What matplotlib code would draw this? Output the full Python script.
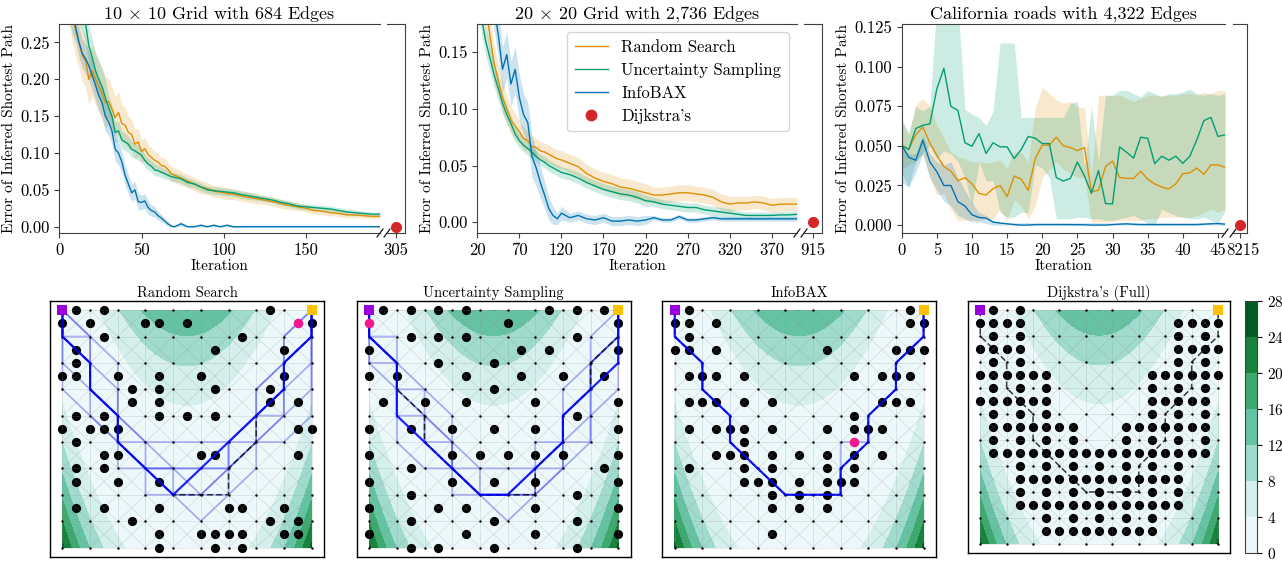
import numpy as np
import matplotlib
matplotlib.use('Agg')
import matplotlib.pyplot as plt
import matplotlib.transforms as mtransforms
from matplotlib.collections import LineCollection
from matplotlib.lines import Line2D
from matplotlib.ticker import FormatStrFormatter

plt.rcParams['font.family'] = 'serif'
plt.rcParams['font.serif'] = ['cmr10']
plt.rcParams['mathtext.fontset'] = 'cm'
plt.rcParams['axes.formatter.use_mathtext'] = True
plt.rcParams['axes.unicode_minus'] = False
plt.rcParams['axes.edgecolor'] = '0.25'

names = ['Random Search', 'Uncertainty Sampling', 'InfoBAX']
colors = ['#de8f05', '#029e73', '#0173b2']
red = '#d62728'

# ---------------- top row data ----------------
# 10 x 10 grid
p1_it = [1, 5, 8] + list(range(10, 71, 2)) + list(range(74, 111, 4)) + list(range(115, 196, 5))
p1_rand = [0.42, 0.33, 0.29,
           0.265, 0.25, 0.232, 0.225, 0.2, 0.212, 0.2, 0.19, 0.18, 0.168,
           0.17, 0.16, 0.148, 0.155, 0.14, 0.138, 0.128, 0.125, 0.112, 0.115,
           0.102, 0.106, 0.098, 0.094, 0.09, 0.088, 0.083, 0.082, 0.078, 0.072, 0.07,
           0.066, 0.062, 0.058, 0.054, 0.052, 0.048, 0.047, 0.045, 0.044, 0.042,
           0.04, 0.038, 0.036, 0.034, 0.031, 0.029, 0.027, 0.025, 0.022, 0.021, 0.019,
           0.018, 0.016, 0.016, 0.015, 0.014, 0.014]
p1_unc = [0.45, 0.38, 0.33,
          0.31, 0.30, 0.29, 0.275, 0.245, 0.23, 0.212, 0.2, 0.19, 0.175,
          0.162, 0.15, 0.128, 0.13, 0.118, 0.115, 0.112, 0.105, 0.103, 0.1,
          0.097, 0.09, 0.085, 0.082, 0.077, 0.076, 0.074, 0.072, 0.07, 0.068, 0.067,
          0.065, 0.06, 0.058, 0.054, 0.05, 0.049, 0.048, 0.047, 0.046, 0.044,
          0.042, 0.04, 0.038, 0.036, 0.033, 0.031, 0.028, 0.027, 0.026, 0.025, 0.024,
          0.022, 0.02, 0.019, 0.018, 0.017, 0.017]
p1_info = [0.40, 0.32, 0.29,
           0.27, 0.25, 0.235, 0.228, 0.218, 0.205, 0.192, 0.178, 0.168, 0.15,
           0.142, 0.13, 0.105, 0.1, 0.088, 0.07, 0.058, 0.046, 0.05, 0.034,
           0.033, 0.035, 0.026, 0.022, 0.02, 0.015, 0.012, 0.008, 0.004, 0.001, 0.0,
           0.004, 0.0, 0.0, 0.002, 0.0, 0.002, 0.0, 0.002, 0.0, 0.0] + [0.0] * 17
p1_rand_sd = [0.04] * 3 + [0.035] * 10 + \
    [0.03, 0.03, 0.028, 0.028, 0.025, 0.025, 0.022, 0.02, 0.02, 0.018] + \
    [0.016, 0.015, 0.014, 0.013, 0.012, 0.012, 0.011, 0.011, 0.01, 0.01, 0.01] + \
    [0.01, 0.009, 0.009, 0.009, 0.008, 0.008, 0.008, 0.008, 0.007, 0.007] + \
    [0.007, 0.007, 0.006, 0.006, 0.006, 0.006, 0.005, 0.005, 0.005, 0.005,
     0.004, 0.004, 0.004, 0.004, 0.003, 0.003, 0.003]
p1_unc_sd = [0.03] * 3 + [0.025] * 10 + \
    [0.015, 0.015, 0.014, 0.013, 0.012, 0.012, 0.011, 0.011, 0.01, 0.01] + \
    [0.009, 0.009, 0.008, 0.008, 0.008, 0.007, 0.007, 0.007, 0.006, 0.006, 0.006] + \
    [0.006, 0.006] + [0.005] * 8 + [0.005] + [0.004] * 13 + [0.003] * 3
p1_info_sd = [0.03] * 3 + [0.02] * 10 + \
    [0.018, 0.018, 0.016, 0.016, 0.015, 0.014, 0.013, 0.012, 0.012, 0.011] + \
    [0.01, 0.01, 0.009, 0.008, 0.007, 0.006, 0.005, 0.004, 0.003, 0.002, 0.001] + \
    [0.003, 0.001, 0.001, 0.002, 0.001, 0.002, 0.001, 0.002, 0.001, 0.0005] + [0.0003] * 17

# 20 x 20 grid
p2_it = list(range(20, 121, 5)) + list(range(130, 401, 10))
p2_rand = [0.26, 0.22, 0.19, 0.165, 0.14, 0.125, 0.11, 0.1, 0.09, 0.085, 0.08,
           0.074, 0.072, 0.067, 0.066, 0.063, 0.062, 0.06, 0.058, 0.056, 0.055,
           0.052, 0.049, 0.043, 0.039, 0.036, 0.034, 0.031, 0.03, 0.028, 0.026,
           0.024, 0.024, 0.025, 0.026, 0.026, 0.025, 0.024, 0.022, 0.018, 0.016,
           0.017, 0.017, 0.018, 0.017, 0.015, 0.016, 0.016, 0.016]
p2_unc = [0.22, 0.18, 0.16, 0.145, 0.13, 0.118, 0.105, 0.095, 0.087, 0.078, 0.072,
          0.068, 0.065, 0.062, 0.058, 0.055, 0.053, 0.05, 0.048, 0.046, 0.044,
          0.042, 0.039, 0.035, 0.032, 0.029, 0.027, 0.025, 0.024, 0.022, 0.019,
          0.018, 0.016, 0.015, 0.014, 0.013, 0.013, 0.011, 0.01, 0.009, 0.008,
          0.007, 0.006, 0.006, 0.006, 0.006, 0.0065, 0.0065, 0.007]
p2_info = [0.35, 0.30, 0.26, 0.22, 0.19, 0.165, 0.135, 0.148, 0.122, 0.135, 0.11,
           0.095, 0.088, 0.058, 0.048, 0.035, 0.024, 0.012, 0.006, 0.003, 0.008,
           0.004, 0.006, 0.003, 0.002, 0.004, 0.001, 0.001, 0.002, 0.001, 0.002,
           0.004, 0.002, 0.002, 0.005, 0.002, 0.002, 0.003, 0.004, 0.003, 0.003] + [0.003] * 8
p2_rand_sd = [0.02, 0.02, 0.02, 0.018, 0.016, 0.015, 0.014, 0.012, 0.012, 0.011, 0.01,
              0.01, 0.009, 0.009, 0.008, 0.008, 0.008, 0.008, 0.008, 0.008, 0.008] + \
    [0.008] * 10 + [0.007] * 10 + [0.006] * 8
p2_unc_sd = [0.015, 0.014, 0.013, 0.012, 0.011, 0.01, 0.009, 0.008, 0.007, 0.007, 0.006,
             0.006, 0.006, 0.005, 0.005, 0.005, 0.005, 0.005, 0.005, 0.005, 0.005] + \
    [0.005] * 10 + [0.004] * 10 + [0.003] * 8
p2_info_sd = [0.03, 0.03, 0.025, 0.025, 0.02, 0.02, 0.02, 0.02, 0.02, 0.02, 0.02,
              0.018, 0.018, 0.018, 0.016, 0.014, 0.012, 0.01, 0.008, 0.005, 0.006] + \
    [0.004] * 10 + [0.002] * 18

# California roads
p3_it = list(range(47))
p3_rand = [0.050, 0.048, 0.057, 0.062, 0.052, 0.044, 0.037, 0.034, 0.028, 0.030,
           0.026, 0.020, 0.019, 0.023, 0.025, 0.018, 0.031, 0.029, 0.022, 0.042,
           0.0505, 0.0505, 0.0555, 0.050, 0.049, 0.047, 0.049, 0.021, 0.022, 0.037,
           0.0405, 0.030, 0.0295, 0.0295, 0.034, 0.029, 0.026, 0.024, 0.0228, 0.026,
           0.0325, 0.033, 0.036, 0.032, 0.038, 0.038, 0.0365]
p3_unc = [0.0505, 0.0477, 0.061, 0.063, 0.0639, 0.086, 0.099, 0.075, 0.0724, 0.052,
          0.0498, 0.0578, 0.0452, 0.052, 0.0494, 0.0494, 0.042, 0.0477, 0.056, 0.0549,
          0.0515, 0.0515, 0.030, 0.0278, 0.0295, 0.0398, 0.031, 0.020, 0.0345, 0.0136,
          0.0134, 0.0494, 0.046, 0.0423, 0.0555, 0.0548, 0.0388, 0.0435, 0.041, 0.0435,
          0.039, 0.0435, 0.054, 0.066, 0.068, 0.056, 0.057]
p3_info = [0.0505, 0.0428, 0.041, 0.0536, 0.040, 0.0337, 0.025, 0.025, 0.0148, 0.012,
           0.0065, 0.0048, 0.0044, 0.0019, 0.0013, 0.0008, 0.0003, 0.0, 0.0, 0.0003,
           0.0003, 0.0003, 0.0003, 0.0003, 0.0003, 0.0002, 0.0002, 0.0, 0.0, 0.0,
           0.0003, 0.0006, 0.0008, 0.0005, 0.0003, 0.0003, 0.0003, 0.0003, 0.0003, 0.0003,
           0.0003, 0.0003, 0.0003, 0.0006, 0.0008, 0.001, 0.0006]
p3_rand_lo = [0.035, 0.038, 0.040, 0.045, 0.030, 0.019, 0.020, 0.010, 0.003, 0.003,
              0.003, 0.003, 0.004, 0.004, 0.010, 0.003, 0.016, 0.012, 0.004, 0.012,
              0.030, 0.035, 0.040, 0.035, 0.033, 0.030, 0.030, 0.002, 0.002, 0.002,
              0.002, 0.003, 0.003, 0.003, 0.003, 0.004, 0.004, 0.005, 0.005, 0.005,
              0.005, 0.005, 0.006, 0.008, 0.010, 0.008, 0.010]
p3_rand_hi = [0.065, 0.057, 0.076, 0.080, 0.075, 0.063, 0.055, 0.046, 0.043, 0.042,
              0.040, 0.040, 0.039, 0.040, 0.041, 0.036, 0.046, 0.046, 0.040, 0.074,
              0.087, 0.083, 0.079, 0.077, 0.078, 0.075, 0.074, 0.030, 0.082, 0.082,
              0.082, 0.082, 0.080, 0.078, 0.080, 0.082, 0.082, 0.082, 0.082, 0.082,
              0.083, 0.083, 0.082, 0.084, 0.083, 0.085, 0.085]
p3_unc_lo = [0.033, 0.024, 0.040, 0.046, 0.050, 0.042, 0.047, 0.045, 0.040, 0.030,
             0.012, 0.040, 0.028, 0.028, 0.008, 0.005, 0.005, 0.008, 0.008, 0.038,
             0.036, 0.030, 0.004, 0.004, 0.004, 0.005, 0.005, 0.004, 0.004, 0.003,
             0.003, 0.004, 0.005, 0.006, 0.004, 0.001, 0.000, 0.010, 0.008, 0.006,
             0.005, 0.004, 0.004, 0.005, 0.003, 0.001, 0.009]
p3_unc_hi = [0.067, 0.058, 0.075, 0.072, 0.075, 0.140, 0.140, 0.140, 0.140, 0.073,
             0.070, 0.068, 0.063, 0.072, 0.115, 0.115, 0.115, 0.068, 0.068, 0.068,
             0.068, 0.068, 0.068, 0.068, 0.077, 0.078, 0.036, 0.075, 0.040, 0.082,
             0.082, 0.085, 0.085, 0.083, 0.081, 0.085, 0.083, 0.081, 0.083, 0.083,
             0.084, 0.086, 0.083, 0.082, 0.083, 0.082, 0.083]
p3_info_lo = [0.027, 0.024, 0.033, 0.045, 0.030, 0.022, 0.015, 0.012, 0.006, 0.004,
              0.002, 0.002, 0.001] + [0.0] * 34
p3_info_hi = [0.050, 0.045, 0.045, 0.057, 0.045, 0.040, 0.038, 0.040, 0.030, 0.022,
              0.014, 0.008, 0.006, 0.003] + [0.0015] * 33

dijkstra_x = [305, 915, 8215]

# ---------------- bottom row data ----------------
# queried edges: for each of 19 half-grid rows (top to bottom), the half-grid columns
rs_query = [[1, 3, 15], [0, 2, 6, 7, 9, 18], [3, 13], [1, 11, 16], [1],
            [0, 1, 4, 7, 10, 16], [5, 7, 11, 15], [5, 7, 15, 17], [1, 3, 7, 9, 11],
            [0, 2, 3, 4, 17, 18], [1], [3, 4, 10, 11, 17], [1, 3], [1, 4, 7], [],
            [1, 3, 7, 12, 13, 16], [5, 15, 17], [7, 10, 11, 12, 13, 16, 17], [7, 11, 13]]
us_query = [[1, 3, 5, 7, 13, 15, 17], [10, 18], [3, 5, 7, 15], [0, 11, 13, 18], [5, 9],
            [0, 2, 7, 11, 14, 17], [9], [1, 4, 7, 12, 18], [15],
            [0, 3, 6, 9, 12, 18], [], [0, 6, 8, 10, 12, 14, 18], [3, 17],
            [0, 6, 9, 12, 18], [3, 15], [0, 5, 7, 12, 18], [3, 9, 15],
            [0, 7, 12, 18], [3, 5, 9, 15]]
ib_query = [[1, 17], [0, 1, 3, 17, 18], [1], [0, 1, 3, 11, 16, 17, 18], [],
            [1, 2, 3, 5, 13, 15, 16, 17], [], [1, 2, 3, 5, 7, 15, 16, 17], [13],
            [1, 3, 4, 5, 7, 11, 13, 14, 15], [5], [3, 4, 5, 7, 9, 11, 13, 15],
            [1, 5, 7, 11, 13], [5, 6, 7, 9, 11, 12, 13], [7, 9, 11], [7, 9, 11],
            [], [7], []]
dj_query = [[1, 3], [0, 1, 2, 3, 15, 16, 17, 18], [1, 3, 15, 17],
            [0, 1, 2, 3, 15, 16, 17, 18], [1, 3, 15, 17],
            list(range(0, 6)) + list(range(13, 19)), [1, 3, 5, 13, 15, 17],
            list(range(0, 6)) + list(range(13, 18)), [1, 3, 5, 13, 15, 17],
            list(range(1, 8)) + list(range(11, 18)), [1, 3, 5, 7, 11, 13, 15, 17],
            list(range(1, 18)), [3, 5, 7, 9, 11, 13, 15], list(range(3, 16)),
            [3, 5, 7, 9, 11, 13, 15], list(range(3, 16)), [5, 7, 9, 11, 13],
            list(range(5, 14)), []]
next_query = {'rs': (1, 17), 'us': (1, 0), 'ib': (10, 13)}

true_path = [(0, 9), (0, 8), (1, 7), (1, 6), (2, 5), (2, 4), (3, 3), (4, 2), (5, 2),
             (6, 2), (6, 3), (7, 4), (7, 5), (8, 6), (8, 7), (9, 8), (9, 9)]
rs_inferred = [(0, 9), (0, 8), (1, 7), (1, 6), (2, 5), (2, 4), (3, 3), (4, 2), (5, 3),
               (6, 4), (7, 5), (8, 6), (8, 7), (9, 8), (9, 9)]
rs_samples = [
    [(0, 9), (0, 8), (1, 7), (1, 6), (1, 5), (2, 4), (3, 3), (4, 2), (5, 2), (6, 2), (6, 3),
     (7, 4), (7, 5), (8, 6), (8, 7), (9, 8), (9, 9)],
    [(0, 9), (1, 8), (1, 7), (2, 6), (2, 5), (2, 4), (2, 3), (3, 3), (4, 3), (5, 3), (6, 3),
     (7, 4), (8, 5), (8, 6), (8, 7), (8, 8), (9, 9)],
    [(0, 9), (0, 8), (0, 7), (1, 6), (2, 5), (3, 4), (4, 3), (4, 2), (5, 2), (6, 3), (7, 4),
     (8, 4), (9, 5), (9, 6), (9, 7), (9, 8), (9, 9)],
    [(0, 9), (0, 8), (1, 8), (1, 7), (1, 6), (2, 5), (2, 4), (3, 4), (4, 4), (5, 4), (6, 4),
     (7, 4), (7, 5), (8, 5), (8, 6), (9, 7), (9, 8), (9, 9)],
    [(0, 9), (0, 8), (1, 7), (1, 6), (2, 5), (2, 4), (3, 3), (3, 2), (4, 2), (5, 1), (6, 2),
     (7, 3), (7, 4), (8, 5), (9, 6), (9, 7), (9, 8), (9, 9)],
    [(0, 9), (0, 8), (0, 7), (0, 6), (1, 5), (2, 4), (3, 3), (4, 3), (5, 2), (6, 3), (6, 4),
     (7, 5), (7, 6), (8, 7), (9, 8), (9, 9)],
    [(0, 9), (1, 8), (2, 7), (2, 6), (2, 5), (3, 4), (3, 3), (4, 3), (5, 3), (6, 3), (6, 4),
     (7, 5), (7, 6), (8, 7), (8, 8), (9, 9)],
]
us_inferred = [(0, 9), (0, 8), (1, 7), (1, 6), (1, 5), (2, 4), (3, 3), (4, 2), (5, 2),
               (6, 3), (7, 4), (7, 5), (8, 6), (9, 7), (9, 8), (9, 9)]
us_samples = [
    [(0, 9), (0, 8), (1, 7), (1, 6), (2, 5), (2, 4), (3, 3), (3, 2), (4, 2), (5, 2), (6, 2),
     (6, 3), (7, 4), (7, 5), (8, 6), (8, 7), (9, 8), (9, 9)],
    [(0, 9), (0, 8), (0, 7), (1, 6), (2, 6), (2, 5), (3, 4), (3, 3), (4, 2), (5, 1), (6, 2),
     (7, 3), (7, 4), (8, 5), (8, 6), (8, 7), (9, 8), (9, 9)],
    [(0, 9), (0, 8), (1, 8), (1, 7), (1, 6), (2, 5), (3, 4), (3, 3), (4, 3), (5, 3), (6, 3),
     (7, 3), (7, 4), (8, 4), (8, 5), (8, 6), (8, 7), (9, 8), (9, 9)],
    [(0, 9), (0, 8), (0, 7), (1, 7), (1, 6), (1, 5), (2, 5), (2, 4), (3, 4), (4, 3), (4, 2),
     (5, 2), (6, 2), (6, 3), (7, 4), (7, 5), (7, 6), (8, 7), (9, 8), (9, 9)],
    [(0, 9), (0, 8), (1, 7), (1, 6), (1, 5), (1, 4), (2, 3), (3, 3), (4, 2), (5, 2), (6, 3),
     (6, 4), (7, 4), (7, 5), (8, 6), (8, 7), (8, 8), (9, 9)],
    [(0, 9), (0, 8), (1, 7), (2, 6), (3, 5), (3, 4), (3, 3), (4, 2), (5, 2), (6, 2), (7, 3),
     (8, 4), (8, 5), (9, 6), (9, 7), (9, 8), (9, 9)],
]
ib_inferred = true_path
ib_samples = [
    [(0, 9), (0, 8), (1, 7), (1, 6), (2, 5), (2, 4), (3, 3), (4, 2), (5, 2), (6, 2), (6, 3),
     (6, 4), (7, 4), (7, 5), (8, 6), (8, 7), (9, 8), (9, 9)],
]

# ---------------- figure ----------------
fig = plt.figure(figsize=(12.82, 5.61), dpi=100)
W, H = 1282.0, 561.0


def px_rect(x0, y0, x1, y1):
    return [x0 / W, 1 - y1 / H, (x1 - x0) / W, (y1 - y0) / H]


def curve_panel(main_px, small_px, it, lines, los, his, xlim, xticks, ylim, yticks,
                yfmt, dx, title, shift=0):
    ax = fig.add_axes(px_rect(*main_px))
    axs = fig.add_axes(px_rect(*small_px))
    handles = []
    for name, col, y, lo, hi in zip(names, colors, lines, los, his):
        ax.fill_between(it, lo, hi, color=col, alpha=0.2, lw=0)
        h, = ax.plot(it, y, color=col, lw=1.0, label=name)
        handles.append(h)
    axs.plot([dx], [0], 'o', color=red, ms=7, clip_on=False, zorder=5)
    handles.append(Line2D([], [], marker='o', ls='none', color=red, ms=7.5))
    ax.set_xlim(*xlim)
    ax.set_ylim(*ylim)
    axs.set_xlim(dx - 5, dx + 5)
    axs.set_ylim(*ylim)
    ax.spines['right'].set_visible(False)
    axs.spines['left'].set_visible(False)
    axs.set_yticks([])
    axs.set_xticks([dx])
    axs.set_xticklabels([str(dx)])
    ax.set_xticks(xticks)
    ax.set_yticks(yticks)
    ax.yaxis.set_major_formatter(FormatStrFormatter(yfmt))
    ax.xaxis.set_major_formatter(FormatStrFormatter('%d'))
    for a in (ax, axs):
        a.tick_params(labelsize=12, length=3.5, width=0.8, color='0.25')
    if shift:
        off = mtransforms.ScaledTranslation(shift / 100.0, 0, fig.dpi_scale_trans)
        for lab in axs.get_xticklabels():
            lab.set_transform(lab.get_transform() + off)
    wm = main_px[2] - main_px[0]
    ws = small_px[2] - small_px[0]
    hh = main_px[3] - main_px[1]
    kw = dict(color='k', clip_on=False, lw=0.8)
    ax.plot([1 - 3 / wm, 1 + 3 / wm], [-4 / hh, 4 / hh], transform=ax.transAxes, **kw)
    axs.plot([-3 / ws, 3 / ws], [-4 / hh, 4 / hh], transform=axs.transAxes, **kw)
    ax.set_title(title, fontsize=13, pad=3)
    ax.set_xlabel('Iteration', fontsize=11, labelpad=1)
    ax.set_ylabel('Error of Inferred Shortest Path', fontsize=11, labelpad=3)
    return ax, handles


curve_panel((59.3, 24, 380, 233), (387, 24, 405, 233), p1_it,
            [p1_rand, p1_unc, p1_info],
            [np.array(p1_rand) - p1_rand_sd, np.array(p1_unc) - p1_unc_sd, np.array(p1_info) - p1_info_sd],
            [np.array(p1_rand) + p1_rand_sd, np.array(p1_unc) + p1_unc_sd, np.array(p1_info) + p1_info_sd],
            (0, 195), [0, 50, 100, 150], (-0.0085, 0.275), [0, 0.05, 0.1, 0.15, 0.2, 0.25],
            '%.2f', dijkstra_x[0], r'10 $\times$ 10 Grid with 684 Edges')

ax2, leg_handles = curve_panel((477.3, 24, 797, 233), (804, 24, 822, 233), p2_it,
                               [p2_rand, p2_unc, p2_info],
                               [np.array(p2_rand) - p2_rand_sd, np.array(p2_unc) - p2_unc_sd,
                                np.array(p2_info) - p2_info_sd],
                               [np.array(p2_rand) + p2_rand_sd, np.array(p2_unc) + p2_unc_sd,
                                np.array(p2_info) + p2_info_sd],
                               (20, 400), list(range(20, 371, 50)), (-0.0095, 0.175),
                               [0, 0.05, 0.1, 0.15], '%.2f', dijkstra_x[1],
                               r'20 $\times$ 20 Grid with 2,736 Edges')
ax2.legend(leg_handles, names + ["Dijkstra's"], loc='upper right', fontsize=12,
           framealpha=0.8, edgecolor='0.8', labelspacing=0.45, borderpad=0.45)

curve_panel((901.7, 24, 1225, 233), (1233, 24, 1247, 233), p3_it,
            [p3_rand, p3_unc, p3_info],
            [p3_rand_lo, p3_unc_lo, p3_info_lo],
            [p3_rand_hi, p3_unc_hi, p3_info_hi],
            (0, 46), list(range(0, 46, 5)), (-0.005, 0.127),
            [0, 0.025, 0.05, 0.075, 0.1, 0.125], '%.3f', dijkstra_x[2],
            'California roads with 4,322 Edges', shift=3)

# ---------------- bottom row ----------------
gx = np.linspace(-2, 2, 10)
gy = np.linspace(-1, 4, 10)
hx = np.linspace(-2, 2, 19)
hy = np.linspace(4, -1, 19)
X, Y = np.meshgrid(np.linspace(-2, 2, 300), np.linspace(-1, 4, 300))
F = 0.01 * (1 - X) ** 2 + (Y - X ** 2) ** 2
levels = np.arange(0, 29, 4)

edge_segs = []
for i in range(10):
    for j in range(10):
        for di, dj in [(1, 0), (0, 1), (1, 1), (1, -1)]:
            if 0 <= i + di < 10 and 0 <= j + dj < 10:
                edge_segs.append([(gx[i], gy[j]), (gx[i + di], gy[j + dj])])
NX, NY = np.meshgrid(gx, gy)


def path_xy(path):
    return [gx[p[0]] for p in path], [gy[p[1]] for p in path]


def grid_panel(rect_px, title, query, nxt=None, inferred=None, samples=()):
    ax = fig.add_axes(px_rect(*rect_px))
    cs = ax.contourf(X, Y, F, levels=levels, cmap='BuGn', zorder=0)
    for path in samples:
        px, py = path_xy(path)
        ax.plot(px, py, color='b', lw=1.3, alpha=0.28, zorder=2)
    qx = [hx[c] for r, cols in enumerate(query) for c in cols]
    qy = [hy[r] for r, cols in enumerate(query) for c in cols]
    ax.scatter(qx, qy, s=44, color='k', lw=0, zorder=3)
    ax.add_collection(LineCollection(edge_segs, colors='0.55', linewidths=0.6,
                                     alpha=0.24, zorder=4))
    ax.scatter(NX.ravel(), NY.ravel(), s=3, color='k', lw=0, zorder=5)
    tx, ty = path_xy(true_path)
    ax.plot(tx, ty, color='k', ls='--', lw=1.1, alpha=0.75, dashes=(4, 2), zorder=6)
    if inferred is not None:
        px, py = path_xy(inferred)
        ax.plot(px, py, color='b', lw=1.6, alpha=0.85, zorder=7)
    if nxt is not None:
        ax.scatter([hx[nxt[1]]], [hy[nxt[0]]], s=48, color='#f0188c', lw=0, zorder=8)
    ax.scatter([gx[0]], [gy[9]], marker='s', s=55, color='#9a00dc', lw=0, zorder=9)
    ax.scatter([gx[9]], [gy[9]], marker='s', s=55, color='#ffc200', lw=0, zorder=9)
    ax.set_xlim(-2.2, 2.2)
    ax.set_ylim(-1.2, 4.2)
    ax.set_xticks([])
    ax.set_yticks([])
    for s in ax.spines.values():
        s.set_edgecolor('k')
        s.set_linewidth(1.0)
    ax.set_title(title, fontsize=10.5, pad=3)
    return cs


grid_panel((50, 300.7, 324, 557), 'Random Search', rs_query, next_query['rs'],
           rs_inferred, rs_samples)
grid_panel((356.7, 300.7, 630.7, 557), 'Uncertainty Sampling', us_query, next_query['us'],
           us_inferred, us_samples)
grid_panel((662.3, 300.7, 936, 557), 'InfoBAX', ib_query, next_query['ib'],
           ib_inferred, ib_samples)
cs = grid_panel((968.3, 300.7, 1230, 553.3), "Dijkstra's (Full)", dj_query)

cax = fig.add_axes(px_rect(1245, 301, 1257.3, 552.7))
cb = fig.colorbar(cs, cax=cax, ticks=levels)
cb.ax.tick_params(labelsize=11, length=3.5)
cb.outline.set_linewidth(0.8)

fig.savefig('out.png', dpi=100)
